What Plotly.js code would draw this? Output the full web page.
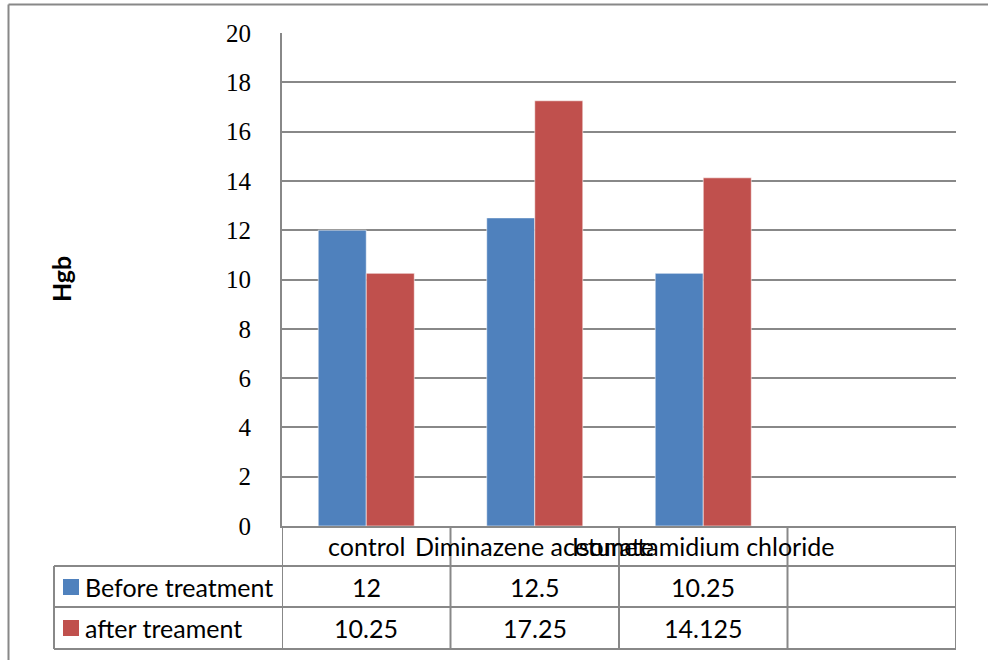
<!DOCTYPE html>
<html>
<head>
<meta charset="utf-8">
<script src="https://cdn.plot.ly/plotly-3.0.1.min.js"></script>
<style>
  html, body { margin: 0; padding: 0; background: #ffffff; }
  #chart { width: 988px; height: 660px; }
</style>
</head>
<body>
<div id="chart"></div>
<script>
// ---- data ----
const categories = ["control", "Diminazene aceturate", "Isometamidium chloride"];
const seriesNames = ["Before treatment", "after treament"];
const beforeValues = [12, 12.5, 10.25];
const afterValues = [10.25, 17.25, 14.125];
const yTickValues = [0, 2, 4, 6, 8, 10, 12, 14, 16, 18, 20];
const yAxisTitle = "Hgb";

// ---- styling / layout helpers ----
const W = 988, H = 660;
const px = x => x / W;
const py = y => 1 - y / H;
const colors = ["#4F81BD", "#C0504D"];
const gridColor = "#888888";
const tableFont = "Lato, 'Liberation Sans', sans-serif";
const tableSize = 25;
const nCols = categories.length + 1; // one empty column in the data table

const traces = [beforeValues, afterValues].map((vals, i) => ({
  type: "bar",
  name: seriesNames[i],
  x: categories,
  y: vals,
  marker: { color: colors[i], line: { color: "rgba(255,255,255,0.55)", width: 1 } },
  hoverinfo: "skip"
}));

const shapes = [];
const annotations = [];
const line = (o) => Object.assign({ type: "line", line: { color: gridColor, width: 2 } }, o);

// outer chart border (top and left)
shapes.push(line({ xref: "paper", yref: "paper", x0: px(8.5), x1: 1, y0: py(4.5), y1: py(4.5) }));
shapes.push(line({ xref: "paper", yref: "paper", x0: px(8.5), x1: px(8.5), y0: py(4.5), y1: 0 }));

// data table: row bottoms
const headerTop = 526, rowBottoms = [566, 607, 649];
rowBottoms.forEach(yb => {
  shapes.push(line({ xref: "paper", yref: "paper", x0: px(54), x1: px(956), y0: py(yb), y1: py(yb) }));
});
// legend column left border
shapes.push(line({ xref: "paper", yref: "paper", x0: px(54), x1: px(54), y0: py(rowBottoms[0]), y1: py(rowBottoms[2]) }));
// column separators at category boundaries
for (let i = 0; i <= nCols; i++) {
  shapes.push(line({ xref: "x", yref: "paper", x0: i - 0.5, x1: i - 0.5, y0: py(headerTop), y1: py(rowBottoms[2]) }));
}

// header row: category names
categories.forEach((c, i) => {
  annotations.push({ xref: "x", yref: "paper", x: i, y: py(546), text: c, showarrow: false,
    xanchor: "center", yanchor: "middle", font: { family: tableFont, size: tableSize, color: "#000" } });
});

// series rows
const rowCenters = [587, 628];
[beforeValues, afterValues].forEach((vals, r) => {
  // legend key
  shapes.push({ type: "rect", xref: "paper", yref: "paper",
    x0: px(63), x1: px(79), y0: py(rowCenters[r] - 8), y1: py(rowCenters[r] + 8),
    fillcolor: colors[r], line: { width: 0 } });
  annotations.push({ xref: "paper", yref: "paper", x: px(83), y: py(rowCenters[r]), text: seriesNames[r],
    showarrow: false, xanchor: "left", yanchor: "middle",
    font: { family: tableFont, size: tableSize, color: "#000" } });
  vals.forEach((v, i) => {
    annotations.push({ xref: "x", yref: "paper", x: i, y: py(rowCenters[r]), text: String(v),
      showarrow: false, xanchor: "center", yanchor: "middle",
      font: { family: tableFont, size: tableSize, color: "#000" } });
  });
});

// y axis title
annotations.push({ xref: "paper", yref: "paper", x: px(61), y: py(279), text: "<b>" + yAxisTitle + "</b>",
  textangle: -90, showarrow: false, xanchor: "center", yanchor: "middle",
  font: { family: tableFont, size: 25, color: "#000" } });

const layout = {
  width: W, height: H,
  margin: { l: 0, r: 0, t: 0, b: 0 },
  paper_bgcolor: "#ffffff", plot_bgcolor: "#ffffff",
  showlegend: false,
  barmode: "group", bargap: 0.43, bargroupgap: 0,
  xaxis: {
    domain: [px(282), px(956)],
    type: "category", categoryarray: categories, categoryorder: "array",
    range: [-0.5, nCols - 0.5],
    showticklabels: false, showgrid: false, zeroline: false,
    showline: true, linecolor: gridColor, linewidth: 2, ticks: "", fixedrange: true
  },
  yaxis: {
    domain: [py(526), py(33)],
    range: [0, 20], tickvals: yTickValues, ticktext: yTickValues.map(String),
    showgrid: true, gridcolor: gridColor, gridwidth: 2,
    zeroline: false, showline: true, linecolor: gridColor, linewidth: 2,
    ticks: "", ticklabelstandoff: 24,
    tickfont: { family: "'Liberation Serif', 'Times New Roman', serif", size: 25, color: "#000" },
    fixedrange: true
  },
  shapes: shapes,
  annotations: annotations,
  hovermode: false
};

Plotly.newPlot("chart", traces, layout, { displayModeBar: false, staticPlot: true });
</script>
</body>
</html>
